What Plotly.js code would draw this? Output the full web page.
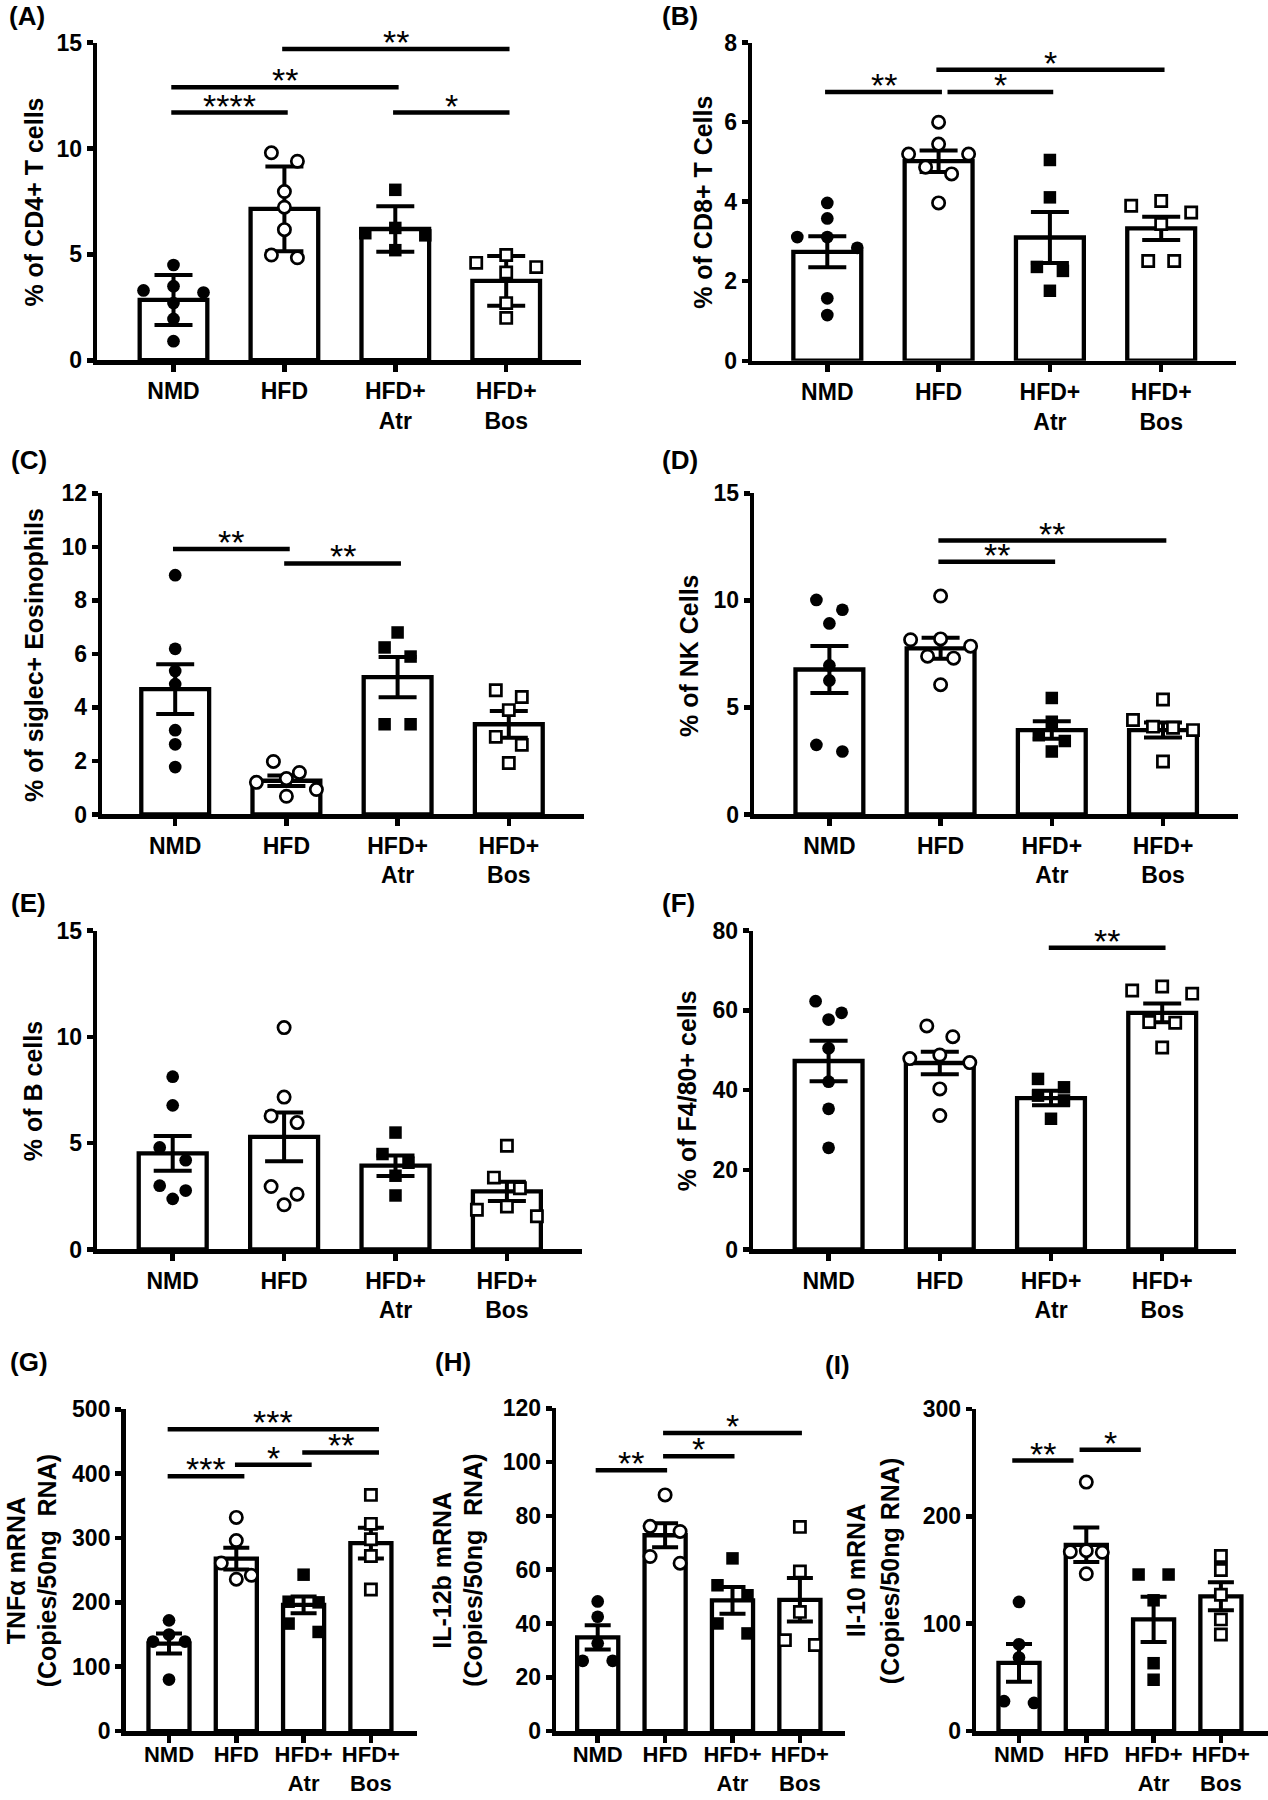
<!DOCTYPE html>
<html><head><meta charset="utf-8">
<script src="https://cdn.plot.ly/plotly-3.0.1.min.js"></script>
<style>html,body{margin:0;padding:0;background:#fff}#chart{width:1268px;height:1800px}</style>
</head><body><div id="chart"></div>
<script>
// ---------------- DATA ----------------
const groups = ["NMD", "HFD", "HFD+<br>Atr", "HFD+<br>Bos"];

// (A) % of CD4+ T cells
const A_NMD = [4.5, 3.5, 3.3, 3.2, 2.7, 1.95, 0.9];
const A_HFD = [9.8, 9.4, 7.97, 7.23, 6.17, 4.97, 4.84];
const A_Atr = [8.05, 6.25, 6.0, 5.9, 5.2];
const A_Bos = [4.97, 4.6, 4.4, 4.15, 2.7, 2.0];
const A_mean = [2.85, 7.15, 6.2, 3.75];
const A_err = [1.18, 2.0, 1.07, 1.17];
const A_sig = [[0, 1, 11.7, "****"], [0, 2, 12.9, "**"], [1, 3, 14.7, "**"], [2, 3, 11.7, "*"]];
const A_ticks = [0, 5, 10, 15];

// (B) % of CD8+ T Cells
const B_NMD = [3.97, 3.58, 3.11, 3.11, 2.84, 1.57, 1.15];
const B_HFD = [6.0, 5.45, 5.2, 5.2, 4.87, 4.7, 3.97];
const B_Atr = [5.05, 4.11, 2.36, 2.26, 1.76];
const B_Bos = [4.02, 3.9, 3.73, 3.44, 2.51, 2.51];
const B_mean = [2.74, 5.02, 3.1, 3.33];
const B_err = [0.39, 0.27, 0.64, 0.29];
const B_sig = [[0, 1, 6.76, "**"], [1, 2, 6.76, "*"], [1, 3, 7.32, "*"]];
const B_ticks = [0, 2, 4, 6, 8];

// (C) % of siglec+ Eosinophils
const C_NMD = [8.94, 6.19, 5.36, 4.87, 3.15, 2.62, 1.77];
const C_HFD = [1.98, 1.57, 1.34, 1.2, 0.93, 0.68];
const C_Atr = [6.8, 6.24, 5.9, 3.37, 3.37];
const C_Bos = [4.64, 4.39, 3.9, 2.9, 2.6, 1.92];
const C_mean = [4.68, 1.26, 5.13, 3.37];
const C_err = [0.93, 0.2, 0.75, 0.5];
const C_sig = [[0, 1, 9.92, "**"], [1, 2, 9.38, "**"]];
const C_ticks = [0, 2, 4, 6, 8, 10, 12];

// (D) % of NK Cells
const D_NMD = [10.02, 9.56, 8.92, 6.96, 6.26, 3.25, 2.94];
const D_HFD = [10.2, 8.2, 8.16, 7.86, 7.39, 7.3, 6.06];
const D_Atr = [5.44, 4.33, 3.7, 3.43, 2.94];
const D_Bos = [5.37, 4.41, 4.1, 4.05, 3.94, 2.47];
const D_mean = [6.77, 7.76, 3.94, 3.94];
const D_err = [1.1, 0.49, 0.41, 0.35];
const D_sig = [[1, 2, 11.8, "**"], [1, 3, 12.79, "**"]];
const D_ticks = [0, 5, 10, 15];

// (E) % of B cells
const E_NMD = [8.13, 6.78, 4.8, 4.2, 3.0, 2.77, 2.38];
const E_HFD = [10.44, 7.17, 6.28, 5.97, 2.96, 2.6, 2.1];
const E_Atr = [5.5, 4.49, 4.08, 3.47, 2.54];
const E_Bos = [4.88, 3.38, 2.88, 2.02, 1.87, 1.56];
const E_mean = [4.52, 5.3, 3.94, 2.73];
const E_err = [0.82, 1.15, 0.48, 0.45];
const E_sig = [];
const E_ticks = [0, 5, 10, 15];

// (F) % of F4/80+ cells
const F_NMD = [62.3, 59.4, 57.7, 50.5, 42.1, 35.3, 25.5];
const F_HFD = [56.1, 53.4, 48.8, 47.9, 46.9, 40.3, 33.6];
const F_Atr = [42.8, 40.7, 38.6, 37.4, 32.8];
const F_Bos = [66.0, 65.0, 64.2, 57.1, 56.9, 50.7];
const F_mean = [47.3, 46.8, 38.0, 59.4];
const F_err = [5.1, 2.85, 1.8, 2.35];
const F_sig = [[2, 3, 75.7, "**"]];
const F_ticks = [0, 20, 40, 60, 80];

// (G) TNFα mRNA
const G_NMD = [172, 150, 139, 139, 80];
const G_HFD = [332, 296, 261, 242, 236];
const G_Atr = [243, 201, 200, 167, 154];
const G_Bos = [367, 322, 298, 272, 220];
const G_mean = [136, 268, 196, 292];
const G_err = [15.5, 17, 13, 24];
const G_sig = [[0, 1, 396, "***"], [1, 2, 414, "*"], [2, 3, 433, "**"], [0, 3, 469, "***"]];
const G_ticks = [0, 100, 200, 300, 400, 500];

// (H) IL-12b mRNA
const H_NMD = [48.2, 42.5, 32.6, 26.1, 26.1];
const H_HFD = [87.8, 76.1, 74.2, 64.9, 62.4];
const H_Atr = [64.2, 54.2, 50.5, 40, 36.3];
const H_Bos = [75.9, 59.3, 44.3, 33.8, 32];
const H_mean = [34.8, 72.8, 48.6, 48.8];
const H_err = [4.5, 4.5, 5.0, 8.1];
const H_sig = [[0, 1, 97, "**"], [1, 2, 102.2, "*"], [1, 3, 110.8, "*"]];
const H_ticks = [0, 20, 40, 60, 80, 100, 120];

// (I) Il-10 mRNA
const I_NMD = [120.3, 80.8, 68.5, 27.8, 26.2];
const I_HFD = [231.9, 168, 167, 166.5, 146.5];
const I_Atr = [145.8, 145.8, 121.8, 63.2, 47.8];
const I_Bos = [163, 150, 127, 104, 90];
const I_mean = [63.5, 173.5, 104, 125.5];
const I_err = [17.5, 16, 21, 13];
const I_sig = [[0, 1, 252, "**"], [1, 2, 262, "*"]];
const I_ticks = [0, 100, 200, 300];

// ---------------- LAYOUT / STYLE ----------------
const W = 1268, H = 1800;
const FONT = "Liberation Sans, Arial, Helvetica, sans-serif";
const LW = 4.5;

const big = {d: 13, h2: 13, h3: 30, h4: 20, cap: 19, padL: -0.02, padR: 0.03, standoff: 0, xfont: 23};
const small = {d: 12.5, h2: 15, h3: 16, h4: 12, cap: 13, padL: -0.02, padR: 0.04, standoff: -7, xfont: 22};

const panels = [
  {lab: "(A)", labXY: [7, 16], title: ["% of CD4+ T cells"], titleX: [34], ymax: 15, ticks: A_ticks,
   g: [95, 581, 173.5, 110.9, 42.7, 362.5], pts: [A_NMD, A_HFD, A_Atr, A_Bos], mean: A_mean, err: A_err, sig: A_sig, st: big},
  {lab: "(B)", labXY: [660, 16], title: ["% of CD8+ T Cells"], titleX: [703], ymax: 8, ticks: B_ticks,
   g: [750, 1236, 827.3, 111.3, 42.7, 363], pts: [B_NMD, B_HFD, B_Atr, B_Bos], mean: B_mean, err: B_err, sig: B_sig, st: big},
  {lab: "(C)", labXY: [9, 460], title: ["% of siglec+ Eosinophils"], titleX: [34], ymax: 12, ticks: C_ticks,
   g: [100, 584, 175.2, 111.2, 493.3, 816.7], pts: [C_NMD, C_HFD, C_Atr, C_Bos], mean: C_mean, err: C_err, sig: C_sig, st: big},
  {lab: "(D)", labXY: [660, 460], title: ["% of NK Cells"], titleX: [689], ymax: 15, ticks: D_ticks,
   g: [752, 1238, 829.4, 111.2, 493.3, 816.7], pts: [D_NMD, D_HFD, D_Atr, D_Bos], mean: D_mean, err: D_err, sig: D_sig, st: big},
  {lab: "(E)", labXY: [9, 903], title: ["% of B cells"], titleX: [33], ymax: 15, ticks: E_ticks,
   g: [95, 582, 172.7, 111.4, 930.7, 1251.7], pts: [E_NMD, E_HFD, E_Atr, E_Bos], mean: E_mean, err: E_err, sig: E_sig, st: big},
  {lab: "(F)", labXY: [660, 903], title: ["% of F4/80+ cells"], titleX: [687], ymax: 80, ticks: F_ticks,
   g: [751, 1236, 828.6, 111.2, 930.7, 1251.7], pts: [F_NMD, F_HFD, F_Atr, F_Bos], mean: F_mean, err: F_err, sig: F_sig, st: big},
  {lab: "(G)", labXY: [8, 1362], title: ["TNFα mRNA", "(Copies/50ng\u00a0 RNA)"], titleX: [16, 47], ymax: 500, ticks: G_ticks,
   g: [123.3, 416.7, 169, 67.3, 1409.3, 1733.3], pts: [G_NMD, G_HFD, G_Atr, G_Bos], mean: G_mean, err: G_err, sig: G_sig,
   st: Object.assign({}, small, {padR: 0.12})},
  {lab: "(H)", labXY: [433, 1362], title: ["IL-12b mRNA", "(Copies/50ng\u00a0 RNA)"], titleX: [442, 473], ymax: 120, ticks: H_ticks,
   g: [554, 845, 597.7, 67.4, 1408.3, 1733.3], pts: [H_NMD, H_HFD, H_Atr, H_Bos], mean: H_mean, err: H_err, sig: H_sig,
   st: Object.assign({}, small, {padL: -0.03, padR: 0.03})},
  {lab: "(I)", labXY: [823, 1365], title: ["Il-10 mRNA", "(Copies/50ng RNA)"], titleX: [856, 890], ymax: 300, ticks: I_ticks,
   g: [974, 1268, 1019, 67.3, 1409, 1733.3], pts: [I_NMD, I_HFD, I_Atr, I_Bos], mean: I_mean, err: I_err, sig: I_sig,
   st: Object.assign({}, small, {padL: -0.1, padR: -0.19})}
];

const markerStyles = [
  {symbol: "circle", size: 12.7, color: "black", line: {width: 0}},
  {symbol: "circle", size: 12.3, color: "white", line: {color: "black", width: 2.7}},
  {symbol: "square", size: 12.5, color: "black", line: {width: 0}},
  {symbol: "square", size: 11.2, color: "white", line: {color: "black", width: 2.7}}
];

function swarm(vals, pxPerUnit, st) {
  const idx = vals.map((v, i) => i).sort((a, b) => vals[b] - vals[a]);
  const off = new Array(vals.length).fill(0);
  let i = 0;
  while (i < idx.length) {
    const anchor = vals[idx[i]];
    const row = [idx[i]];
    let j = i + 1;
    while (j < idx.length && (anchor - vals[idx[j]]) * pxPerUnit < st.d) { row.push(idx[j]); j++; }
    const n = row.length;
    if (n === 2) { off[row[0]] = -st.h2; off[row[1]] = st.h2; }
    else if (n === 3) { off[row[0]] = 0; off[row[1]] = -st.h3; off[row[2]] = st.h3; }
    else if (n > 3) { row.forEach((k, m) => { off[k] = (m - (n - 1) / 2) * st.h4; }); }
    i = j;
  }
  return off;
}

const traces = [];
const layout = {
  width: W, height: H, margin: {l: 0, r: 0, t: 0, b: 0},
  paper_bgcolor: "white", plot_bgcolor: "white", showlegend: false,
  font: {family: FONT, color: "black"},
  shapes: [], annotations: []
};

panels.forEach((p, k) => {
  const xs = k === 0 ? "x" : "x" + (k + 1);
  const ys = k === 0 ? "y" : "y" + (k + 1);
  const xk = k === 0 ? "xaxis" : "xaxis" + (k + 1);
  const yk = k === 0 ? "yaxis" : "yaxis" + (k + 1);
  const [axisX, xEnd, cat0, sp, yTop, yZero] = p.g;
  const left = axisX + LW / 2, bottom = yZero - LW / 2;
  const pxPerUnit = (bottom - yTop) / p.ymax;
  const axStyle = {
    showline: true, linewidth: LW, linecolor: "black", ticks: "outside", tickwidth: LW, tickcolor: "black",
    showgrid: false, zeroline: false, fixedrange: true,
    tickfont: {family: FONT, size: 23, color: "black"}
  };
  layout[xk] = Object.assign({}, axStyle, {
    domain: [left / W, xEnd / W], range: [(left - cat0) / sp, (xEnd - cat0) / sp], anchor: ys,
    tickmode: "array", tickvals: [0, 1, 2, 3], ticktext: groups.map(t => "<b>" + t.replace("<br>", "</b><br><b>") + "</b>"),
    ticklen: 7, ticklabelstandoff: p.st.standoff,
    tickfont: {family: FONT, size: p.st.xfont, color: "black"}
  });
  layout[yk] = Object.assign({}, axStyle, {
    domain: [1 - bottom / H, 1 - yTop / H], range: [0, p.ymax], anchor: xs,
    tickmode: "array", tickvals: p.ticks, ticktext: p.ticks.map(t => "<b>" + t + "</b>"),
    ticklen: 6
  });

  traces.push({
    type: "bar", x: [0, 1, 2, 3], y: p.mean, width: 0.61, xaxis: xs, yaxis: ys,
    marker: {color: "white", line: {color: "black", width: 4.3}},
    error_y: {type: "data", array: p.err, visible: true, color: "black", thickness: 4, width: p.st.cap},
    hoverinfo: "skip"
  });

  p.pts.forEach((vals, gi) => {
    const off = swarm(vals, pxPerUnit, p.st);
    traces.push({
      type: "scatter", mode: "markers", xaxis: xs, yaxis: ys, cliponaxis: false,
      x: vals.map((v, i) => gi + off[i] / sp), y: vals,
      marker: markerStyles[gi], hoverinfo: "skip"
    });
  });

  // significance brackets
  p.sig.forEach(s => {
    const [a, b, lvl, txt] = s;
    let x0 = a + p.st.padL;
    const x1 = b + p.st.padR;
    if (p.sig.some(o => o !== s && o[2] === lvl && o[1] === a)) x0 = a + 0.08;
    layout.shapes.push({type: "line", xref: xs, yref: ys, x0: x0, x1: x1, y0: lvl, y1: lvl,
      line: {color: "black", width: LW}});
    layout.annotations.push({xref: xs, yref: ys, x: (x0 + x1) / 2, y: lvl, text: txt, showarrow: false,
      xanchor: "center", yanchor: "middle", yshift: 7, font: {family: FONT, size: 34, color: "black"}});
  });

  // panel label
  layout.annotations.push({xref: "paper", yref: "paper", x: p.labXY[0] / W, y: 1 - p.labXY[1] / H,
    xanchor: "left", yanchor: "middle", showarrow: false, text: "<b>" + p.lab + "</b>",
    font: {family: FONT, size: 26, color: "black"}});

  // y titles
  const yc = 1 - (yTop + yZero) / 2 / H;
  p.title.forEach((t, ti) => {
    layout.annotations.push({xref: "paper", yref: "paper", x: p.titleX[ti] / W, y: yc,
      xanchor: "center", yanchor: "middle", textangle: -90, showarrow: false, text: "<b>" + t + "</b>",
      font: {family: FONT, size: 25, color: "black"}});
  });
});

Plotly.newPlot("chart", traces, layout, {staticPlot: true});
</script>
</body></html>
